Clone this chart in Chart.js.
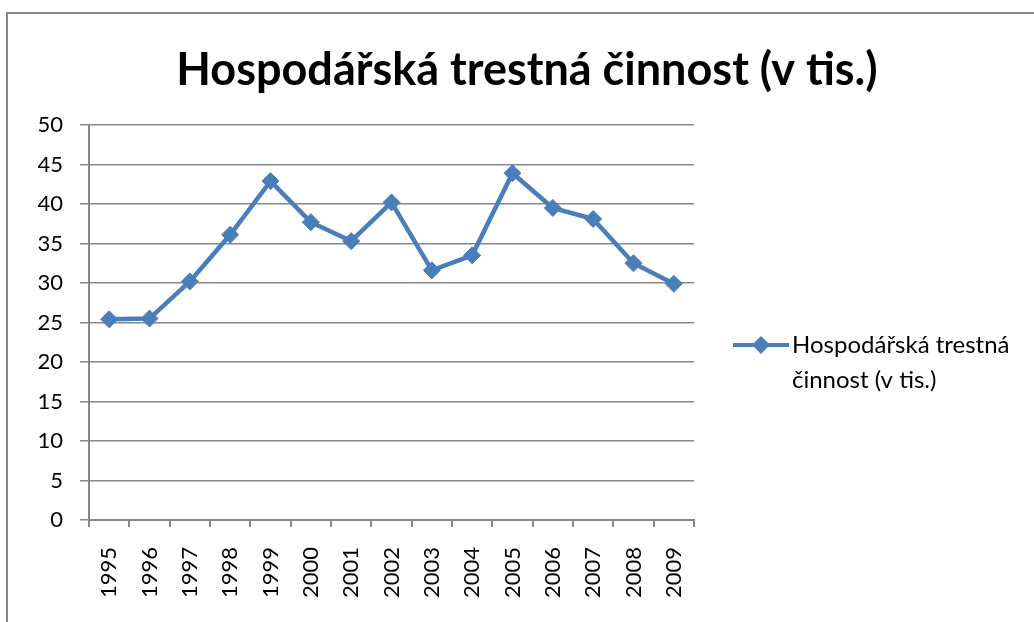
<!DOCTYPE html>
<html>
<head>
<meta charset="utf-8">
<script src="https://cdn.jsdelivr.net/npm/chart.js@4"></script>
<style>
  html, body { margin: 0; padding: 0; background: #fff; overflow: hidden; }
  #wrap { position: relative; width: 1034px; height: 622px; }
  #frame { position: absolute; left: 6px; top: 12px; width: 1100px; height: 700px;
           border-left: 2px solid #878787; border-top: 2px solid #878787; }
  canvas { position: absolute; left: 0; top: 0; }
</style>
</head>
<body>
<div id="wrap">
  <div id="frame"></div>
  <canvas id="chartJS" width="1034" height="622"></canvas>
</div>
<script>
// data
const years = ['1995', '1996', '1997', '1998', '1999', '2000', '2001', '2002',
               '2003', '2004', '2005', '2006', '2007', '2008', '2009'];
const values = [25.4, 25.5, 30.2, 36.1, 42.9, 37.7, 35.3, 40.2,
                31.6, 33.5, 43.9, 39.5, 38.1, 32.5, 29.9];
const seriesName = 'Hospodářská trestná činnost (v tis.)';
const legendLines = ['Hospodářská trestná', 'činnost (v tis.)'];
const yTicks = [0, 5, 10, 15, 20, 25, 30, 35, 40, 45, 50];

const blue = '#4a7ebb';
const grey = '#878787';
const fontFam = 'Lato, "Open Sans", sans-serif';

// title centred on the whole frame, not on the plot
const frameTitle = {
  id: 'frameTitle',
  afterDraw(chart) {
    const ctx = chart.ctx;
    ctx.save();
    ctx.fillStyle = '#000';
    ctx.font = 'bold 45px ' + fontFam;
    ctx.textAlign = 'center';
    ctx.textBaseline = 'middle';
    ctx.fillText(seriesName, 527, 70);
    ctx.restore();
  }
};

// legend drawn by hand so the label can wrap
const sideLegend = {
  id: 'sideLegend',
  afterDraw(chart) {
    const ctx = chart.ctx;
    const y = 345;
    ctx.save();
    ctx.strokeStyle = blue;
    ctx.lineWidth = 4;
    ctx.beginPath();
    ctx.moveTo(733, y);
    ctx.lineTo(789, y);
    ctx.stroke();
    ctx.fillStyle = blue;
    ctx.beginPath();
    ctx.moveTo(761, y - 9);
    ctx.lineTo(770, y);
    ctx.lineTo(761, y + 9);
    ctx.lineTo(752, y);
    ctx.closePath();
    ctx.fill();
    ctx.fillStyle = '#000';
    ctx.font = '24px ' + fontFam;
    ctx.textBaseline = 'middle';
    ctx.textAlign = 'left';
    legendLines.forEach((t, i) => ctx.fillText(t, 792, y + i * 35));
    ctx.restore();
  }
};

const cfg = {
  type: 'line',
  data: {
    labels: years,
    datasets: [{
      label: seriesName,
      data: values,
      borderColor: blue,
      backgroundColor: blue,
      borderWidth: 4.5,
      pointStyle: 'rectRot',
      pointRadius: 8.5,
      pointBorderWidth: 1,
      pointBorderColor: blue,
      pointBackgroundColor: blue,
      tension: 0
    }]
  },
  options: {
    responsive: false,
    animation: false,
    events: [],
    layout: { padding: { left: 20, right: 340, top: 125, bottom: 0 } },
    plugins: {
      legend: { display: false },
      tooltip: { enabled: false },
      title: { display: false }
    },
    scales: {
      x: {
        offset: true,
        grid: { offset: true, drawOnChartArea: false, tickLength: 7, color: grey, lineWidth: 2 },
        border: { color: grey, width: 2 },
        ticks: {
          color: '#000', font: { family: fontFam, size: 22 },
          minRotation: 90, maxRotation: 90, padding: 20, autoSkip: false
        },
        afterFit(scale) { scale.height = 102; }
      },
      y: {
        min: 0, max: 50,
        afterBuildTicks(scale) { scale.ticks = yTicks.map(v => ({ value: v })); },
        grid: { color: grey, lineWidth: 1.5, tickLength: 9 },
        border: { color: grey, width: 2 },
        ticks: { color: '#000', font: { family: fontFam, size: 22 }, padding: 17 },
        afterFit(scale) { scale.width = 69; }
      }
    }
  },
  plugins: [frameTitle, sideLegend]
};

new Chart(document.getElementById('chartJS'), cfg);
</script>
</body>
</html>
